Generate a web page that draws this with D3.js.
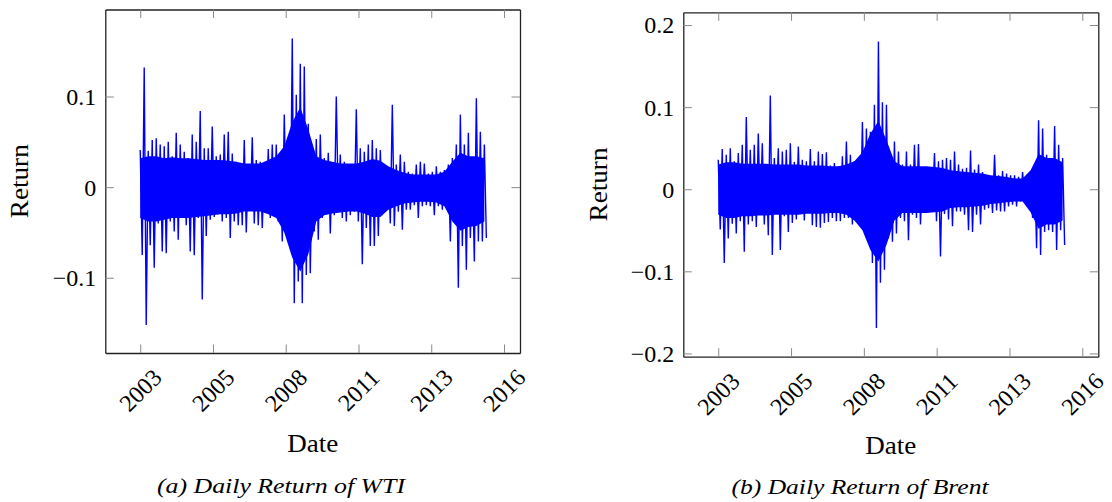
<!DOCTYPE html>
<html>
<head>
<meta charset="utf-8">
<script src="https://cdn.jsdelivr.net/npm/d3@7"></script>
<style>
  body { margin: 0; background: #fff; }
  svg { display: block; }
  text { font-family: "Liberation Serif", "Times New Roman", serif; fill: #000; }
</style>
</head>
<body>
<svg id="chart" width="1112" height="502"></svg>
<script>
// daily returns summarised as the high / low reached in each ~55 day block,
// blocks start on 2003-01-01
const startDate = new Date(2003, 0, 1);
const blockDays = 55;
const coreDays = 110;
const tickDays = [0, 1000, 2000, 3000, 4000, 5000];

const wtiHigh = [0.041, 0.132, 0.04, 0.052, 0.054, 0.047, 0.045, 0.05, 0.034, 0.06,
  0.047, 0.039, 0.032, 0.058, 0.05, 0.084, 0.043, 0.043, 0.067, 0.034,
  0.036, 0.058, 0.061, 0.037, 0.028, 0.026, 0.052, 0.025, 0.055, 0.03,
  0.028, 0.026, 0.042, 0.047, 0.047, 0.036, 0.08, 0.048, 0.164, 0.102,
  0.136, 0.133, 0.07, 0.032, 0.053, 0.058, 0.032, 0.038, 0.025, 0.1,
  0.036, 0.028, 0.025, 0.025, 0.086, 0.043, 0.039, 0.047, 0.052, 0.043,
  0.041, 0.021, 0.017, 0.091, 0.025, 0.036, 0.028, 0.017, 0.015, 0.025,
  0.028, 0.026, 0.015, 0.017, 0.023, 0.017, 0.019, 0.025, 0.032, 0.047,
  0.08, 0.047, 0.06, 0.025, 0.098, 0.061, 0.047];
const wtiLow = [-0.075, -0.152, -0.064, -0.089, -0.04, -0.071, -0.073, -0.038, -0.049, -0.058,
  -0.03, -0.042, -0.071, -0.075, -0.034, -0.124, -0.054, -0.036, -0.033, -0.03,
  -0.038, -0.034, -0.056, -0.038, -0.042, -0.042, -0.05, -0.023, -0.04, -0.042,
  -0.045, -0.027, -0.034, -0.029, -0.038, -0.06, -0.027, -0.056, -0.128, -0.104,
  -0.128, -0.097, -0.095, -0.049, -0.058, -0.034, -0.027, -0.051, -0.031, -0.022,
  -0.034, -0.038, -0.031, -0.027, -0.038, -0.085, -0.045, -0.065, -0.065, -0.054,
  -0.031, -0.024, -0.04, -0.043, -0.027, -0.047, -0.025, -0.025, -0.02, -0.034,
  -0.021, -0.02, -0.021, -0.031, -0.021, -0.025, -0.02, -0.06, -0.027, -0.111,
  -0.065, -0.091, -0.056, -0.082, -0.06, -0.06, -0.056];
// the solid band where most daily returns sit (every 110 days)
const wtiCoreHigh = [0.032, 0.034, 0.034, 0.032, 0.033, 0.032, 0.032, 0.031, 0.03, 0.03,
  0.03, 0.029, 0.028, 0.026, 0.026, 0.026, 0.03, 0.034, 0.045, 0.072,
  0.088, 0.064, 0.034, 0.03, 0.028, 0.026, 0.026, 0.026, 0.028, 0.031,
  0.029, 0.023, 0.019, 0.016, 0.014, 0.014, 0.014, 0.014, 0.017, 0.028,
  0.038, 0.034, 0.034, 0.032];
const wtiCoreLow = [-0.034, -0.038, -0.038, -0.036, -0.034, -0.034, -0.034, -0.033, -0.032, -0.031,
  -0.03, -0.03, -0.029, -0.027, -0.027, -0.027, -0.03, -0.034, -0.05, -0.078,
  -0.093, -0.074, -0.038, -0.031, -0.029, -0.028, -0.027, -0.027, -0.029, -0.033,
  -0.033, -0.025, -0.021, -0.018, -0.017, -0.016, -0.016, -0.017, -0.021, -0.038,
  -0.048, -0.044, -0.043, -0.038];

const brentHigh = [0.036, 0.049, 0.042, 0.05, 0.034, 0.044, 0.054, 0.088, 0.048, 0.054,
  0.068, 0.056, 0.03, 0.114, 0.038, 0.05, 0.046, 0.048, 0.056, 0.033,
  0.052, 0.036, 0.034, 0.049, 0.034, 0.046, 0.043, 0.045, 0.029, 0.032,
  0.028, 0.04, 0.058, 0.042, 0.034, 0.034, 0.082, 0.074, 0.07, 0.103,
  0.18, 0.106, 0.103, 0.042, 0.058, 0.046, 0.03, 0.046, 0.03, 0.054,
  0.055, 0.022, 0.019, 0.021, 0.044, 0.034, 0.036, 0.038, 0.036, 0.046,
  0.03, 0.025, 0.026, 0.047, 0.024, 0.03, 0.021, 0.013, 0.011, 0.042,
  0.017, 0.022, 0.019, 0.017, 0.017, 0.015, 0.021, 0.013, 0.015, 0.024,
  0.084, 0.074, 0.042, 0.038, 0.077, 0.054, 0.038];
const brentLow = [-0.049, -0.09, -0.06, -0.042, -0.054, -0.039, -0.076, -0.043, -0.039, -0.046,
  -0.031, -0.043, -0.056, -0.08, -0.023, -0.074, -0.033, -0.052, -0.041, -0.037,
  -0.027, -0.038, -0.027, -0.044, -0.046, -0.047, -0.041, -0.04, -0.035, -0.039,
  -0.039, -0.035, -0.035, -0.043, -0.036, -0.045, -0.047, -0.052, -0.09, -0.169,
  -0.114, -0.098, -0.06, -0.064, -0.054, -0.035, -0.039, -0.062, -0.031, -0.035,
  -0.043, -0.026, -0.022, -0.019, -0.039, -0.082, -0.03, -0.037, -0.045, -0.027,
  -0.027, -0.031, -0.05, -0.052, -0.031, -0.043, -0.025, -0.023, -0.029, -0.026,
  -0.027, -0.027, -0.021, -0.019, -0.021, -0.015, -0.012, -0.017, -0.035, -0.072,
  -0.08, -0.052, -0.05, -0.052, -0.074, -0.05, -0.068];
const brentCoreHigh = [0.03, 0.033, 0.033, 0.031, 0.031, 0.031, 0.031, 0.03, 0.03, 0.03,
  0.03, 0.029, 0.029, 0.029, 0.028, 0.028, 0.03, 0.034, 0.045, 0.068,
  0.083, 0.06, 0.034, 0.028, 0.028, 0.028, 0.028, 0.027, 0.026, 0.023,
  0.022, 0.021, 0.02, 0.019, 0.017, 0.016, 0.015, 0.013, 0.013, 0.023,
  0.043, 0.038, 0.038, 0.033];
const brentCoreLow = [-0.031, -0.035, -0.035, -0.033, -0.033, -0.032, -0.032, -0.031, -0.031, -0.031,
  -0.031, -0.03, -0.03, -0.03, -0.029, -0.029, -0.031, -0.038, -0.05, -0.074,
  -0.088, -0.068, -0.038, -0.029, -0.029, -0.029, -0.029, -0.028, -0.027, -0.023,
  -0.022, -0.022, -0.021, -0.02, -0.018, -0.017, -0.016, -0.015, -0.015, -0.028,
  -0.048, -0.043, -0.043, -0.038];

const svg = d3.select("#chart");
const dayMs = 864e5;
let dayToDate = (d) => new Date(startDate.getTime() + d * dayMs);

let minus = (v) => (v < 0 ? "\u2212" + d3.format("")(-v) : d3.format("")(v));

let drawPanel = function (p) {
  const g = svg.append("g");

  let x = d3.scaleTime()
    .domain([dayToDate(-480), dayToDate(5220)])
    .range([p.x0, p.x1]);
  let y = d3.scaleLinear()
    .domain(p.yDomain)
    .range([p.y1, p.y0]);

  // solid band
  let core = p.coreHigh.map((h, j) => ({ date: dayToDate(j * coreDays), hi: h, lo: p.coreLow[j] }));
  g.append("path")
    .datum(core)
    .attr("fill", "#0000ff")
    .attr("d", d3.area().x((d) => x(d.date)).y0((d) => y(d.lo)).y1((d) => y(d.hi)));

  // zigzag between block high and block low
  let pts = [];
  p.high.forEach((h, i) => {
    pts.push({ date: dayToDate(i * blockDays), v: h });
    pts.push({ date: dayToDate(i * blockDays + blockDays / 2), v: p.low[i] });
  });

  g.append("path")
    .datum(pts)
    .attr("fill", "none")
    .attr("stroke", "#0000ff")
    .attr("stroke-width", 1.4)
    .attr("d", d3.line().x((d) => x(d.date)).y((d) => y(d.v)));

  const tickVals = tickDays.map(dayToDate);
  const tl = 8.5;

  // four sides, ticks pointing inwards
  let axB = g.append("g").attr("transform", `translate(0,${p.y1})`)
    .call(d3.axisBottom(x).tickValues(tickVals).tickSizeInner(-tl).tickSizeOuter(0).tickFormat(""));
  let axT = g.append("g").attr("transform", `translate(0,${p.y0})`)
    .call(d3.axisTop(x).tickValues(tickVals).tickSizeInner(-tl).tickSizeOuter(0).tickFormat(""));
  let axL = g.append("g").attr("transform", `translate(${p.x0},0)`)
    .call(d3.axisLeft(y).tickValues(p.yTicks).tickSizeInner(-tl).tickSizeOuter(0).tickFormat(""));
  let axR = g.append("g").attr("transform", `translate(${p.x1},0)`)
    .call(d3.axisRight(y).tickValues(p.yTicks).tickSizeInner(-tl).tickSizeOuter(0).tickFormat(""));

  [axB, axT, axL, axR].forEach((a) => {
    a.selectAll(".tick line").attr("stroke", "#8a8a8a").attr("stroke-width", 1);
    a.select(".domain").attr("stroke", "#222").attr("stroke-width", 1.3);
  });

  // y tick labels
  g.selectAll(".ylab")
    .data(p.yTicks)
    .enter()
    .append("text")
    .attr("x", p.x0 - 9)
    .attr("y", (d) => y(d))
    .attr("dy", "0.35em")
    .attr("text-anchor", "end")
    .style("font-size", "24px")
    .text(minus);

  // rotated date labels
  g.selectAll(".xlab")
    .data(tickVals)
    .enter()
    .append("text")
    .attr("transform", (d) => `translate(${x(d)},${p.y1 + 37}) rotate(-45)`)
    .attr("text-anchor", "middle")
    .attr("dy", "0.35em")
    .style("font-size", "24px")
    .text(d3.timeFormat("%Y"));

  g.append("text")
    .attr("x", (p.x0 + p.x1) / 2)
    .attr("y", p.dateY)
    .attr("text-anchor", "middle")
    .attr("textLength", 51)
    .attr("lengthAdjust", "spacingAndGlyphs")
    .style("font-size", "25px")
    .text("Date");

  g.append("text")
    .attr("transform", `translate(${p.retX},${(p.y0 + p.y1) / 2}) rotate(-90)`)
    .attr("text-anchor", "middle")
    .attr("textLength", 74)
    .attr("lengthAdjust", "spacingAndGlyphs")
    .style("font-size", "25px")
    .text("Return");

  g.append("text")
    .attr("x", p.capX)
    .attr("y", p.capY)
    .attr("text-anchor", "middle")
    .attr("textLength", p.capLen)
    .attr("lengthAdjust", "spacingAndGlyphs")
    .style("font-size", "22px")
    .style("font-style", "italic")
    .text(p.caption);
};

drawPanel({
  x0: 105.3, x1: 520, y0: 9.5, y1: 353,
  yDomain: [-0.183, 0.196], yTicks: [-0.1, 0, 0.1],
  high: wtiHigh, low: wtiLow, coreHigh: wtiCoreHigh, coreLow: wtiCoreLow,
  retX: 28, dateY: 451.7,
  caption: "(a) Daily Return of WTI", capX: 281, capY: 493, capLen: 248
});

drawPanel({
  x0: 683.3, x1: 1098.3, y0: 12.3, y1: 356.7,
  yDomain: [-0.204, 0.2155], yTicks: [-0.2, -0.1, 0, 0.1, 0.2],
  high: brentHigh, low: brentLow, coreHigh: brentCoreHigh, coreLow: brentCoreLow,
  retX: 607, dateY: 454,
  caption: "(b) Daily Return of Brent", capX: 860, capY: 494, capLen: 257
});
</script>
</body>
</html>
